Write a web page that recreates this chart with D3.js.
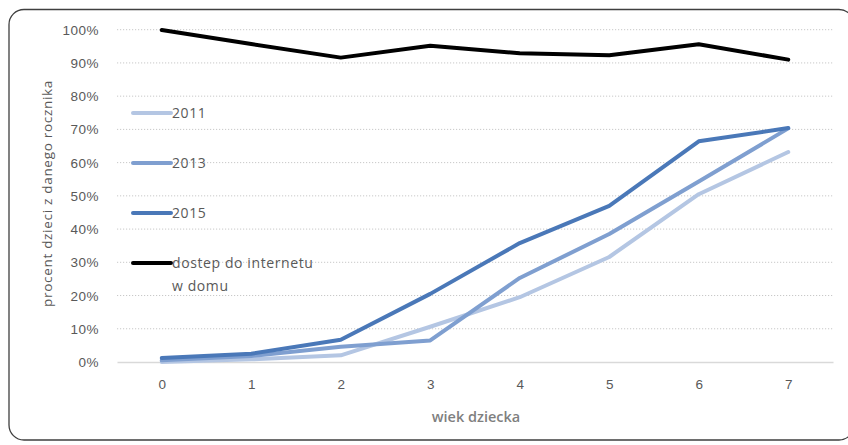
<!DOCTYPE html>
<html>
<head>
<meta charset="utf-8">
<script src="https://cdn.jsdelivr.net/npm/d3@7"></script>
<style>
  html, body { margin: 0; padding: 0; background: #fff; }
  svg { display: block; font-family: "Open Sans", "Liberation Sans", sans-serif; }
</style>
</head>
<body>
<svg id="chart" width="848" height="445"></svg>
<script>
// Child age on the x axis
const ages = ["0", "1", "2", "3", "4", "5", "6", "7"];
// Percent of children of a given age
const series2011 = [0, 0.8, 2.0, 10.6, 19.5, 31.6, 50.5, 63.2];
const series2013 = [0.5, 1.8, 4.6, 6.5, 25.3, 38.5, 54.3, 70.3];
const series2015 = [1.2, 2.5, 6.7, 20.5, 35.8, 47.0, 66.4, 70.4];
const internetAtHome = [99.9, 95.7, 91.6, 95.2, 92.9, 92.3, 95.6, 91.0];
const yTicks = [0, 10, 20, 30, 40, 50, 60, 70, 80, 90, 100];
const seriesNames = ["2011", "2013", "2015", "dostep do internetu|w domu"];

const svg = d3.select("#chart");
const plotLeft = 117, plotRight = 833, plotTop = 29.7, plotBottom = 362;

// Rounded frame around the chart
svg.append("rect")
  .attr("x", 9).attr("y", 9.5)
  .attr("width", 845).attr("height", 430.5)
  .attr("rx", 15).attr("ry", 15)
  .attr("fill", "#fff")
  .attr("stroke", "#3f3f3f").attr("stroke-width", 1.3);

const x = d3.scalePoint().domain(ages).range([plotLeft, plotRight]).padding(0.5);
const y = d3.scaleLinear().domain([0, 100]).range([plotBottom, plotTop]);

// Horizontal gridlines
svg.append("g").selectAll("line")
  .data(yTicks.filter(d => d > 0))
  .join("line")
  .attr("x1", plotLeft).attr("x2", plotRight)
  .attr("y1", d => y(d)).attr("y2", d => y(d))
  .attr("stroke", "#c8c8c8").attr("stroke-width", 1)
  .attr("stroke-dasharray", "1.2,1.8");

// Y axis
const yAxis = svg.append("g")
  .attr("transform", `translate(${plotLeft},0)`)
  .call(d3.axisLeft(y).tickValues(yTicks).tickFormat(d => d + "%").tickSize(0).tickPadding(18));
yAxis.select(".domain").remove();
yAxis.selectAll("text")
  .attr("fill", "#595959").style("font-size", "13.5px").style("letter-spacing", "0.5px")
  .attr("dy", "0.34em");

// X axis with baseline
const xAxis = svg.append("g")
  .attr("transform", `translate(0,${plotBottom})`)
  .call(d3.axisBottom(x).tickSize(0).tickPadding(17));
xAxis.select(".domain").attr("stroke", "#d9d9d9").attr("stroke-width", 1.5);
xAxis.selectAll("text")
  .attr("fill", "#595959").style("font-size", "13.5px");

// Axis titles
svg.append("text")
  .attr("transform", `translate(52,${(62 + 325) / 2}) rotate(-90)`)
  .attr("text-anchor", "middle")
  .attr("fill", "#595959")
  .style("font-size", "13.5px").style("letter-spacing", "0.7px")
  .text("procent dzieci z danego rocznika");

svg.append("text")
  .attr("x", 476).attr("y", 422)
  .attr("text-anchor", "middle")
  .attr("fill", "#7f7f7f")
  .style("font-size", "14.5px").style("font-weight", "600")
  .text("wiek dziecka");

// Lines
const allSeries = [series2011, series2013, series2015, internetAtHome];
const colors = ["#b4c6e3", "#7f9fd0", "#4a78b8", "#000000"];
const line = d3.line().x((d, i) => x(ages[i])).y(d => y(d));

svg.append("g").selectAll("path")
  .data(allSeries)
  .join("path")
  .attr("d", d => line(d))
  .attr("fill", "none")
  .attr("stroke", (d, i) => colors[i])
  .attr("stroke-width", 4)
  .attr("stroke-linejoin", "round")
  .attr("stroke-linecap", "round");

// Legend
const legend = svg.append("g").selectAll("g")
  .data(seriesNames)
  .join("g")
  .attr("transform", (d, i) => `translate(133,${113 + i * 50})`);
legend.append("line")
  .attr("x1", 0).attr("x2", 38)
  .attr("stroke", (d, i) => colors[i])
  .attr("stroke-width", 4).attr("stroke-linecap", "round");
legend.append("text")
  .attr("x", 39)
  .attr("fill", "#595959")
  .style("font-size", "14px").style("letter-spacing", "0.6px")
  .selectAll("tspan")
  .data(d => d.split("|"))
  .join("tspan")
  .attr("x", 39)
  .attr("dy", (d, i) => i === 0 ? "0.35em" : "1.65em")
  .text(d => d);
</script>
</body>
</html>
